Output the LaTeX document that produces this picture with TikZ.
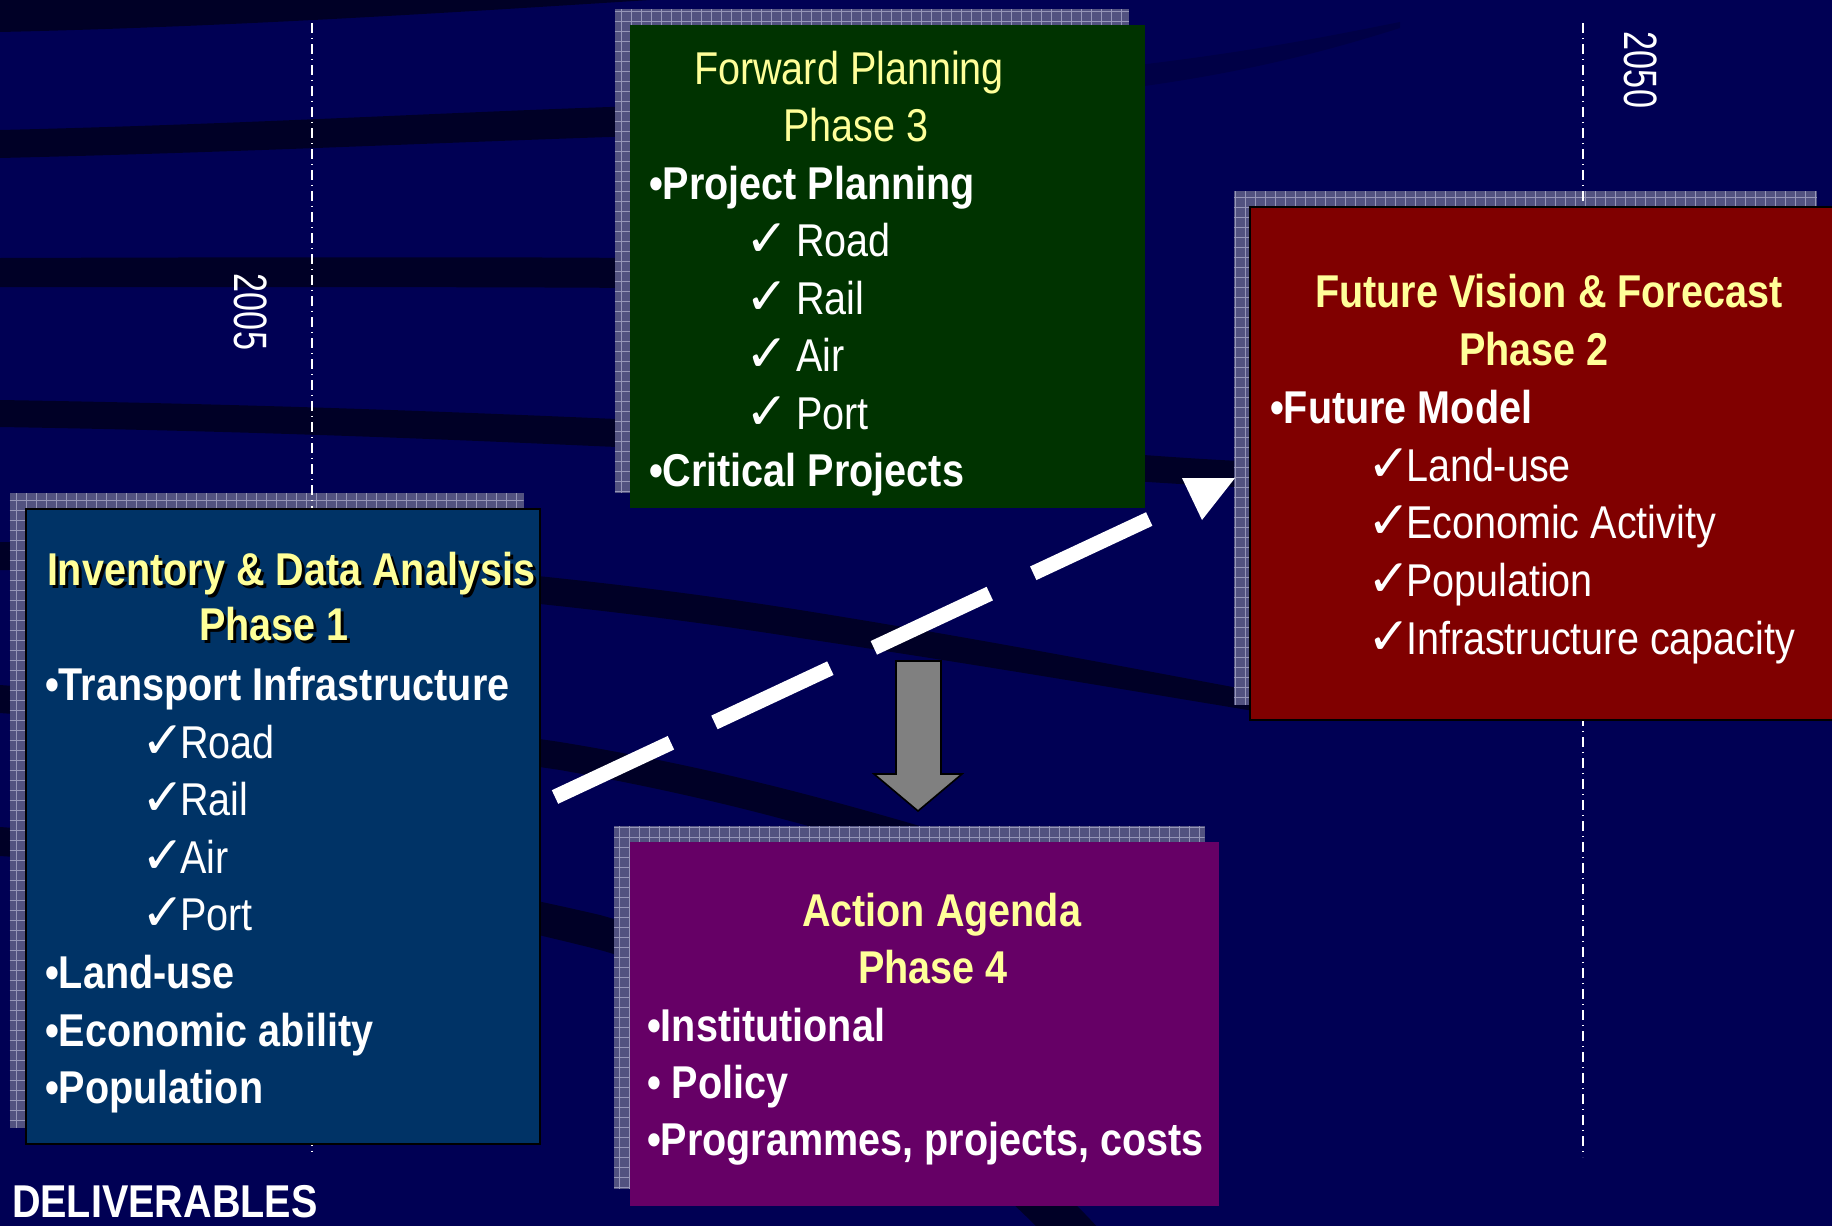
\documentclass[tikz,border=0pt]{standalone}
\usepackage{fontspec}
\usepackage{graphicx}
\setmainfont{Liberation Sans}[FakeStretch=0.86]
\newfontfamily\chkfont{DejaVu Sans}
\definecolor{bgnavy}{RGB}{0,0,84}
\definecolor{streak}{RGB}{0,0,38}
\definecolor{streakfaint}{RGB}{0,0,70}
\definecolor{shadowfill}{RGB}{82,82,128}
\definecolor{shadowgrid}{RGB}{150,150,184}
\definecolor{boxblue}{RGB}{0,51,102}
\definecolor{boxgreen}{RGB}{0,51,0}
\definecolor{boxred}{RGB}{128,0,0}
\definecolor{boxpurple}{RGB}{102,0,102}
\definecolor{titleyellow}{RGB}{255,255,153}
\definecolor{arrowgrey}{RGB}{128,128,128}
\tikzset{
  txt/.style={anchor=base west, inner sep=0pt, outer sep=0pt, text=white, font=\fontsize{23}{28}\selectfont},
  boldtxt/.style={txt, font=\fontsize{23}{28}\selectfont\bfseries},
  ttl/.style={boldtxt, text=titleyellow},
  ttlshadow/.style={boldtxt, text=black},
  ttlreg/.style={txt, text=titleyellow},
  chk/.style={txt, font=\fontsize{26}{28}\chkfont},
  yeartxt/.style={inner sep=0pt, outer sep=0pt, text=white, font=\fontsize{23.4}{28}\selectfont, rotate=-90},
  hatch/.style={anchor=north west, inner sep=0pt, outer sep=0pt, fill=shadowfill,
    path picture={\draw[shadowgrid, line width=0.45pt, step=5pt] (path picture bounding box.south west) grid (path picture bounding box.north east);}},
  panel/.style={anchor=north west, inner sep=0pt, outer sep=0pt},
  vline/.style={white, line width=0.75pt, dash pattern=on 5pt off 2.4pt on 0.7pt off 2.4pt},
  dashline/.style={white, line width=7.5pt, line cap=butt, dash pattern=on 64pt off 24pt},
  greyarrow/.style={fill=arrowgrey, draw=black, line width=0.8pt, line join=miter}
}
\begin{document}
\begin{tikzpicture}[x=0.5pt,y=-0.5pt]
\useasboundingbox (0,0) rectangle (1832,1226);
\fill[bgnavy] (0,0) rectangle (1832,1226);
% background streaks
\fill[streak] (0,0) -- (0,32) .. controls (220,27) and (430,14) .. (650,0) -- cycle;
\fill[streak] (0,130) .. controls (250,124) and (450,112) .. (640,106) -- (640,136) .. controls (450,142) and (250,152) .. (0,158) -- cycle;
\fill[streakfaint] (1130,66) .. controls (1250,52) and (1330,36) .. (1400,22) -- (1400,28) .. controls (1330,50) and (1250,72) .. (1130,88) -- cycle;
\fill[streak] (0,258) .. controls (300,257) and (500,257) .. (640,258) -- (640,288) .. controls (500,287) and (300,287) .. (0,287) -- cycle;
\fill[streak] (0,400) .. controls (300,405) and (500,414) .. (640,420) .. controls (900,432) and (1100,455) .. (1260,462) -- (1260,488) .. controls (1100,482) and (900,460) .. (640,448) .. controls (500,442) and (300,432) .. (0,427) -- cycle;
\fill[streak] (0,542) .. controls (250,548) and (550,570) .. (800,610) .. controls (1000,642) and (1150,672) .. (1260,692) -- (1260,712) .. controls (1150,694) and (1000,668) .. (800,638) .. controls (550,598) and (250,575) .. (0,570) -- cycle;
\fill[streak] (0,685) .. controls (200,700) and (400,718) .. (560,742) .. controls (700,765) and (820,795) .. (1000,850) -- (1000,885) .. controls (820,825) and (700,795) .. (560,770) .. controls (400,746) and (200,728) .. (0,713) -- cycle;
\fill[streak] (0,827) .. controls (250,845) and (450,880) .. (600,915) .. controls (800,970) and (1000,1120) .. (1100,1230) -- (1040,1230) .. controls (950,1140) and (780,1000) .. (600,950) .. controls (450,912) and (250,872) .. (0,856) -- cycle;
% shadows
\node[hatch, minimum width=257pt, minimum height=317.5pt] (p1shadow) at (9.6,493) {};
\node[hatch, minimum width=257.2pt, minimum height=242pt] (p3shadow) at (614.5,9) {};
\node[hatch, minimum width=291.5pt, minimum height=257pt] (p2shadow) at (1234,190.5) {};
\node[hatch, minimum width=295.3pt, minimum height=181.5pt] (p4shadow) at (614,826) {};
% time lines
\coordinate (l05top) at (312,23); \coordinate (l05bot) at (312,1153);
\coordinate (l50top) at (1583,23); \coordinate (l50bot) at (1583,1157);
\draw[vline] (l05top) -- (l05bot);
\draw[vline] (l50top) -- (l50bot);
\node[yeartxt] (y2005) at (251,312) {\scalebox{0.85}[1]{2005}};
\node[yeartxt] (y2050) at (1641,70) {\scalebox{0.85}[1]{2050}};
% panels
\node[panel, fill=boxblue, draw=black, line width=1pt, minimum width=257pt, minimum height=317.5pt] (p1box) at (26,509) {};
\node[panel, fill=boxgreen, minimum width=257.3pt, minimum height=241.5pt] (p3box) at (630,25) {};
\node[panel, fill=boxred, draw=black, line width=1pt, minimum width=296pt, minimum height=256.5pt] (p2box) at (1250,207) {};
\node[panel, fill=boxpurple, minimum width=294.5pt, minimum height=182pt] (p4box) at (630,841.5) {};
% Phase 1 text
\node[ttlshadow] (p1t1s) at (50,588) {Inventory \& Data Analysis};
\node[ttl] (p1t1) at (47,585) {Inventory \& Data Analysis};
\node[ttlshadow] (p1t2s) at (202,643) {Phase 1};
\node[ttl] (p1t2) at (199,640) {Phase 1};
\node[boldtxt] (p1b1) at (45,700) {•Transport Infrastructure};
\node[chk] (p1c1) at (141,758) {✓};\node[txt] (p1i1) at (180,758) {Road};
\node[chk] (p1c2) at (141,815.5) {✓};\node[txt] (p1i2) at (180,815.5) {Rail};
\node[chk] (p1c3) at (141,873) {✓};\node[txt] (p1i3) at (180,873) {Air};
\node[chk] (p1c4) at (141,930) {✓};\node[txt] (p1i4) at (180,930) {Port};
\node[boldtxt] (p1b2) at (45,988) {•Land-use};
\node[boldtxt] (p1b3) at (45,1046) {•Economic ability};
\node[boldtxt] (p1b4) at (45,1103) {•Population};
% Phase 3 text
\node[ttlreg] (p3t1) at (694,84) {Forward Planning};
\node[ttlreg] (p3t2) at (783,141.5) {Phase 3};
\node[boldtxt] (p3b1) at (649,199) {•Project Planning};
\node[chk] (p3c1) at (745,256.5) {✓};\node[txt] (p3i1) at (796,256.5) {Road};
\node[chk] (p3c2) at (745,314) {✓};\node[txt] (p3i2) at (796,314) {Rail};
\node[chk] (p3c3) at (745,371.5) {✓};\node[txt] (p3i3) at (796,371.5) {Air};
\node[chk] (p3c4) at (745,429) {✓};\node[txt] (p3i4) at (796,429) {Port};
\node[boldtxt] (p3b2) at (649,486.5) {•Critical Projects};
% Phase 2 text
\node[ttl] (p2t1) at (1315,307) {Future Vision \& Forecast};
\node[ttl] (p2t2) at (1459,365) {Phase 2};
\node[boldtxt] (p2b1) at (1270,423) {•Future Model};
\node[chk] (p2c1) at (1367,481) {✓};\node[txt] (p2i1) at (1406,481) {Land-use};
\node[chk] (p2c2) at (1367,538.5) {✓};\node[txt] (p2i2) at (1406,538.5) {Economic Activity};
\node[chk] (p2c3) at (1367,596.5) {✓};\node[txt] (p2i3) at (1406,596.5) {Population};
\node[chk] (p2c4) at (1367,654) {✓};\node[txt] (p2i4) at (1406,654) {Infrastructure capacity};
% Phase 4 text
\node[ttl] (p4t1) at (802,926.5) {Action Agenda};
\node[ttl] (p4t2) at (858,983) {Phase 4};
\node[boldtxt] (p4b1) at (647,1041) {•Institutional};
\node[boldtxt] (p4b2) at (647,1098) {• Policy};
\node[boldtxt] (p4b3) at (647,1155.5) {•Programmes, projects, costs};
% deliverables
\node[boldtxt] (deliv) at (12,1217) {DELIVERABLES};
% dashed progress arrow
\coordinate (dstart) at (555,797);
\coordinate (dbase) at (1192,499);
\coordinate (tipA) at (1182,478);
\coordinate (tipB) at (1235,478);
\coordinate (tipC) at (1202,520);
\draw[dashline] (dstart) -- (dbase);
\fill[white] (tipA) -- (tipB) -- (tipC) -- cycle;
% grey down arrow
\draw[greyarrow] (896,661) -- (941,661) -- (941,774) -- (962,774) -- (918,811) -- (874,774) -- (896,774) -- cycle;
\end{tikzpicture}
\end{document}
